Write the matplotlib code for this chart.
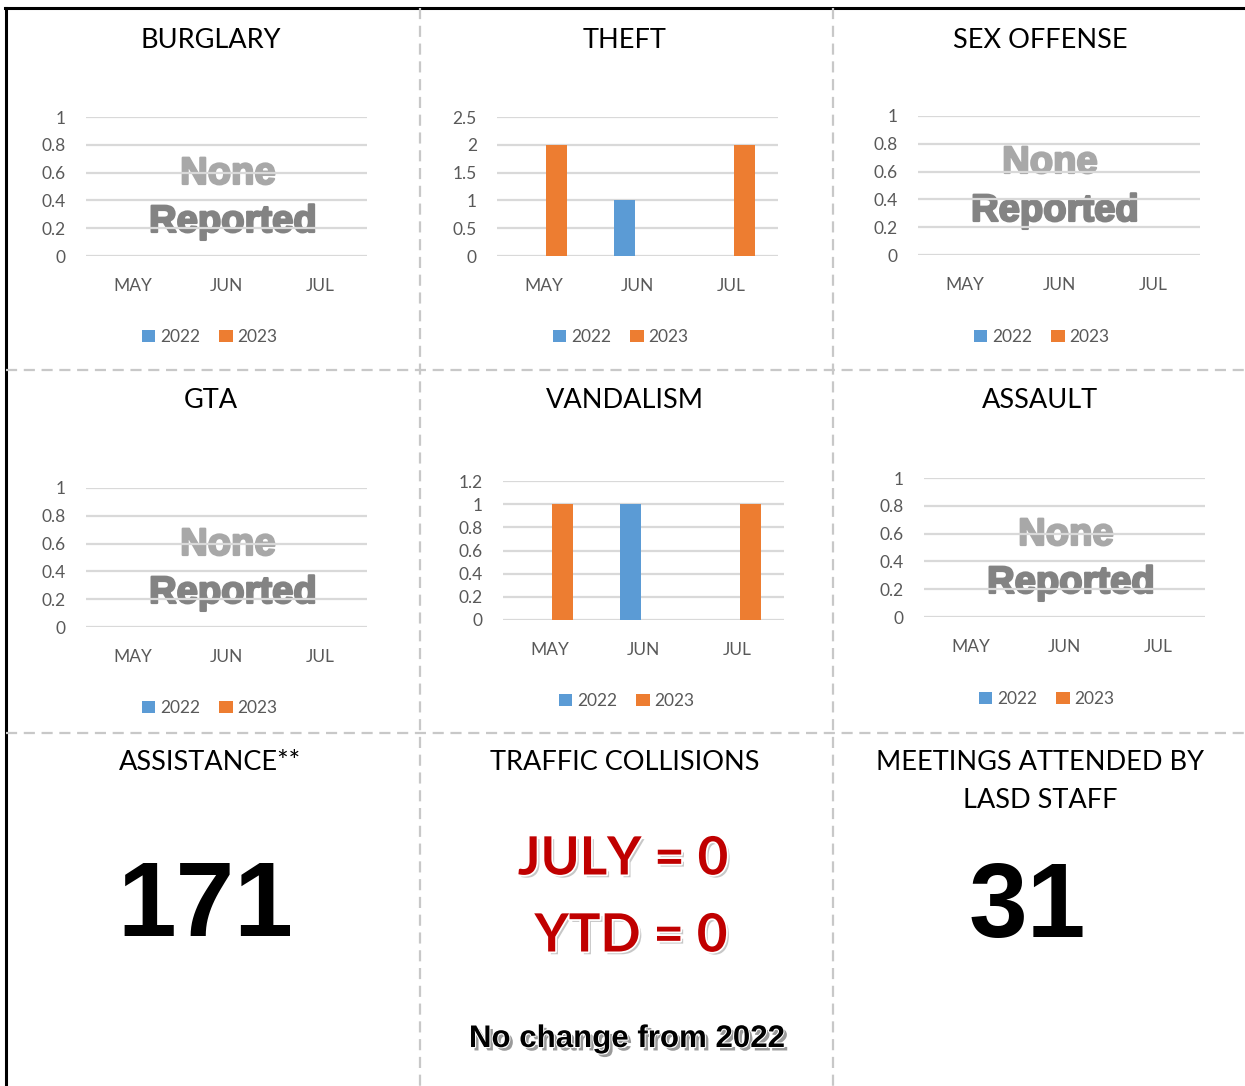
import numpy as np
import matplotlib.pyplot as plt
import matplotlib.patheffects as pe

# Datos
months = ['MAY', 'JUN', 'JUL']
years = ['2022', '2023']

burglary_2022 = [0, 0, 0]
burglary_2023 = [0, 0, 0]
theft_2022 = [0, 1, 0]
theft_2023 = [2, 0, 2]
sex_2022 = [0, 0, 0]
sex_2023 = [0, 0, 0]
gta_2022 = [0, 0, 0]
gta_2023 = [0, 0, 0]
vandalism_2022 = [0, 1, 0]
vandalism_2023 = [1, 0, 1]
assault_2022 = [0, 0, 0]
assault_2023 = [0, 0, 0]

assistance = 171
meetings = 31
collisions_july = 0
collisions_ytd = 0

W, H = 1245, 1086
c22, c23 = '#5b9bd5', '#ed7d31'
tick_col = '#595959'
grid_col = '#d9d9d9'

fig = plt.figure(figsize=(W / 100, H / 100), dpi=100)

# fondo en coordenadas de pixel
bg = fig.add_axes([0, 0, 1, 1])
bg.set_xlim(0, W)
bg.set_ylim(H, 0)
bg.axis('off')

# bordes y separadores
bg.plot([5, W], [8, 8], color='black', lw=2.2)
bg.plot([6, 6], [8, H], color='black', lw=2.2)
for x in [420, 833]:
    bg.plot([x, x], [8, H], color='#c8c8c8', lw=1.6, dashes=(5, 3))
for y in [370, 733]:
    bg.plot([6, W], [y, y], color='#c8c8c8', lw=1.6, dashes=(5, 3))


def chart(title, title_xy, box, ymax, ystep, v22, v23, legend_xy, none_xy=None):
    l, t, r, b = box
    ax = fig.add_axes([l / W, 1 - b / H, (r - l) / W, (b - t) / H])
    x = np.arange(len(months))
    ax.bar(x - 0.14, v22, width=0.225, color=c22, label=years[0], zorder=3)
    ax.bar(x + 0.14, v23, width=0.225, color=c23, label=years[1], zorder=3)
    ax.set_xlim(-0.5, 2.5)
    ax.set_ylim(0, ymax)
    ticks = np.round(np.arange(0, ymax + ystep / 2, ystep), 2)
    ax.set_yticks(ticks)
    ax.set_yticklabels(['%g' % v for v in ticks])
    ax.set_xticks(x)
    ax.set_xticklabels(months)
    ax.tick_params(length=0, colors=tick_col, labelsize=12.5, labelfontfamily='Lato')
    ax.tick_params(axis='y', pad=14.5)
    ax.tick_params(axis='x', pad=16)
    ax.grid(axis='y', color=grid_col, lw=1.6, zorder=0)
    for s in ax.spines.values():
        s.set_visible(False)
    ax.patch.set_alpha(0)
    bg.text(title_xy[0], title_xy[1], title, ha='center', va='center',
            fontsize=19.5, family='Lato')
    h, lab = ax.get_legend_handles_labels()
    fig.legend(h, lab, loc='center', bbox_to_anchor=(legend_xy[0] / W, 1 - legend_xy[1] / H),
               ncol=2, frameon=False, handlelength=0.75, handleheight=0.75,
               handletextpad=0.3, columnspacing=1.1,
               prop={'family': 'Lato', 'size': 12.5}, labelcolor=tick_col)
    if none_xy is not None:
        nx, ny = none_xy
        bg.text(nx, ny, 'None', ha='center', va='center', fontsize=27.5,
                weight='bold', family='Liberation Sans', color='#a8a8a8', zorder=5,
                path_effects=[pe.Stroke(linewidth=1.6, foreground='#a8a8a8'), pe.Normal()])
        bg.text(nx + 5, ny + 48, 'Reported', ha='center', va='center', fontsize=27.5,
                weight='bold', family='Liberation Sans', color='#838383', zorder=5,
                path_effects=[pe.Stroke(linewidth=1.6, foreground='#838383'), pe.Normal()])


chart('BURGLARY', (211, 40), (86, 117, 367, 256), 1, 0.2,
      burglary_2022, burglary_2023, (210, 337), (228, 174))
chart('THEFT', (625, 40), (497, 117, 778, 256), 2.5, 0.5,
      theft_2022, theft_2023, (621, 337))
chart('SEX OFFENSE', (1040, 40), (918, 116, 1200, 255), 1, 0.2,
      sex_2022, sex_2023, (1042, 337), (1050, 163))
chart('GTA', (211, 400), (86, 488, 367, 627), 1, 0.2,
      gta_2022, gta_2023, (210, 708), (228, 545))
chart('VANDALISM', (625, 400), (503, 481, 784, 620), 1.2, 0.2,
      vandalism_2022, vandalism_2023, (627, 701))
chart('ASSAULT', (1040, 400), (924, 478, 1205, 617), 1, 0.2,
      assault_2022, assault_2023, (1047, 699), (1066, 535))

# fila de abajo
bg.text(210, 762, 'ASSISTANCE**', ha='center', va='center', fontsize=19.5, family='Lato')
bg.text(625, 762, 'TRAFFIC COLLISIONS', ha='center', va='center', fontsize=19.5, family='Lato')
bg.text(1040, 762, 'MEETINGS ATTENDED BY', ha='center', va='center', fontsize=19.5, family='Lato')
bg.text(1040, 800, 'LASD STAFF', ha='center', va='center', fontsize=19.5, family='Lato')

bg.text(205, 908, str(assistance), ha='center', va='center', fontsize=76,
        weight='bold', family='Liberation Sans')
bg.text(1027, 910, str(meetings), ha='center', va='center', fontsize=76,
        weight='bold', family='Liberation Sans')

red_fx = [pe.SimplePatchShadow(offset=(2, -2), shadow_rgbFace='#b0b0b0', alpha=0.7),
          pe.Stroke(linewidth=2.5, foreground='white'), pe.Normal()]
bg.text(623, 859, 'JULY = %d' % collisions_july, ha='center', va='center', fontsize=38,
        weight='bold', family='Lato', color='#c00000', path_effects=red_fx)
bg.text(631, 936, 'YTD = %d' % collisions_ytd, ha='center', va='center', fontsize=38,
        weight='bold', family='Lato', color='#c00000', path_effects=red_fx)

blk_fx = [pe.SimplePatchShadow(offset=(2.5, -2.5), shadow_rgbFace='#9a9a9a', alpha=1),
          pe.Stroke(linewidth=1.5, foreground='white'), pe.Normal()]
bg.text(627, 1039, 'No change from 2022', ha='center', va='center', fontsize=22.5,
        weight='bold', family='Liberation Sans', color='black', path_effects=blk_fx)

fig.savefig('out.png', dpi=100)
